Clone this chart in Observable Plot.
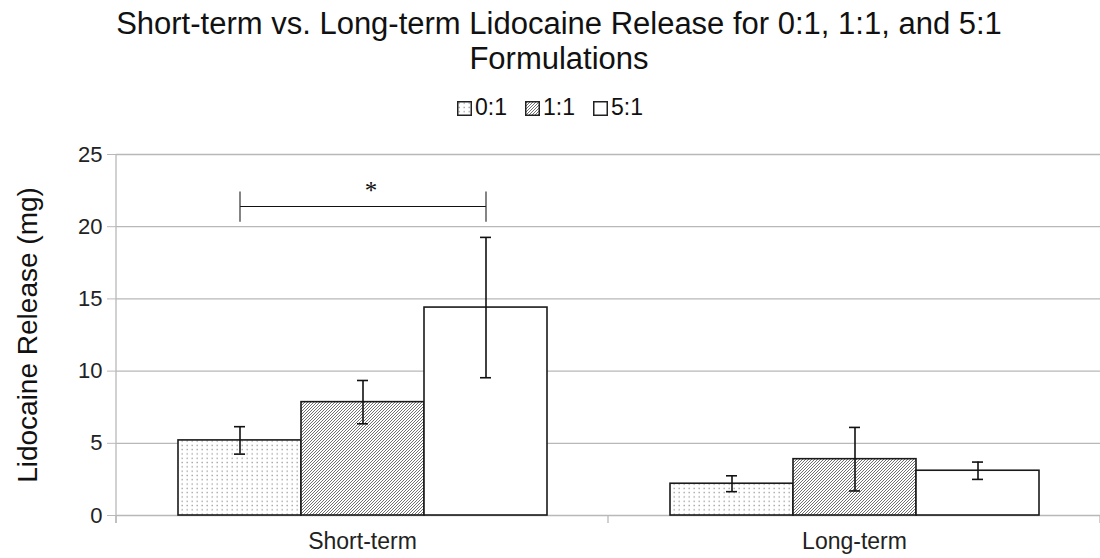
<!DOCTYPE html>
<html>
<head>
<meta charset="utf-8">
<script src="https://cdn.jsdelivr.net/npm/d3@7"></script>
<script src="https://cdn.jsdelivr.net/npm/@observablehq/plot@0.6"></script>
<style>
  body { margin: 0; background: #fff; font-family: "Liberation Sans", Arial, sans-serif; color: #111; }
  #wrap { position: relative; width: 1100px; height: 558px; overflow: hidden; }
  #title { position: absolute; left: 18px; top: 6px; width: 1082px; text-align: center; font-size: 31px; line-height: 35px; }
  #legend { position: absolute; left: 0; top: 96px; width: 1100px; text-align: center; font-size: 23px; line-height: 23px; white-space: nowrap; }
  #legend .item { display: inline-block; margin: 0 9px; }
  #legend svg { vertical-align: -1px; margin-right: 3px; }
  #chart { position: absolute; left: 0; top: 125px; }
</style>
</head>
<body>
<svg width="0" height="0" style="position:absolute">
  <defs>
    <pattern id="fill-dots" patternUnits="userSpaceOnUse" width="5" height="4.3">
      <rect width="5" height="4.3" fill="#fff"/>
      <rect x="1.5" y="1.5" width="1.4" height="1.3" fill="#a0a0a0"/>
    </pattern>
    <pattern id="fill-hatch" patternUnits="userSpaceOnUse" width="3" height="3">
      <rect width="3" height="3" fill="#fff"/>
      <path d="M-0.75,0.75 L0.75,-0.75 M0,3 L3,0 M2.25,3.75 L3.75,2.25" stroke="#6a6a6a" stroke-width="0.95"/>
    </pattern>
  </defs>
</svg>
<div id="wrap">
  <div id="title">Short-term vs. Long-term Lidocaine Release for 0:1, 1:1, and 5:1<br>Formulations</div>
  <div id="legend"></div>
  <div id="chart"></div>
</div>
<script>
// Formulation ratios and release phases
const categories = ["Short-term", "Long-term"];
const series = ["0:1", "1:1", "5:1"];
const seriesFills = ["url(#fill-dots)", "url(#fill-hatch)", "#fff"];

// Mean lidocaine release (mg) and error (±) per formulation
const shortTermMeans = [5.2, 7.85, 14.4];
const shortTermErrors = [0.95, 1.5, 4.86];
const longTermMeans = [2.2, 3.9, 3.1];
const longTermErrors = [0.55, 2.2, 0.6];

const yTicks = [0, 5, 10, 15, 20, 25];
const yLabel = "Lidocaine Release (mg)";

// Significance bracket between formulations
const sigCategory = ["Short-term"];
const sigFrom = ["0:1"];
const sigTo = ["5:1"];
const sigLevel = [21.4];
const sigTickLow = [20.3];
const sigTickHigh = [22.4];
const sigLabel = ["*"];

const means = [shortTermMeans, longTermMeans];
const errors = [shortTermErrors, longTermErrors];
const rows = categories.flatMap((category, ci) =>
  series.map((s, si) => ({
    category,
    series: s,
    value: means[ci][si],
    lo: means[ci][si] - errors[ci][si],
    hi: means[ci][si] + errors[ci][si]
  }))
);
const brackets = sigCategory.map((category, i) => ({
  category,
  from: sigFrom[i],
  to: sigTo[i],
  mid: series[(series.indexOf(sigFrom[i]) + series.indexOf(sigTo[i])) / 2],
  y: sigLevel[i],
  lo: sigTickLow[i],
  hi: sigTickHigh[i],
  label: sigLabel[i]
}));

// Legend
const legend = d3.select("#legend");
series.forEach((s, i) => {
  const item = legend.append("span").attr("class", "item");
  const sw = item.append("svg").attr("width", 15).attr("height", 15);
  sw.append("rect").attr("x", 0.75).attr("y", 0.75).attr("width", 13.5).attr("height", 13.5)
    .attr("fill", seriesFills[i]).attr("stroke", "#222").attr("stroke-width", 1.5);
  item.append("span").text(s);
});

const grid = "#b8b8b8";
const plot = Plot.plot({
  width: 1100,
  height: 433,
  marginTop: 29,
  marginBottom: 43,
  marginLeft: 116,
  marginRight: 0,
  style: { fontFamily: "Liberation Sans, Arial, sans-serif", color: "#222", background: "#fff" },
  fx: { domain: categories, padding: 0, label: null },
  x: { domain: series, paddingInner: 0, paddingOuter: 0.5, axis: null },
  y: { domain: [0, 25], label: null },
  color: { domain: series, range: seriesFills },
  marks: [
    Plot.ruleY(yTicks, { stroke: grid, strokeWidth: 1.3 }),
    Plot.axisY({ ticks: yTicks, tickSize: 9, tickPadding: 5, stroke: grid, fontSize: 22, label: null }),
    Plot.axisFx({ anchor: "bottom", tickSize: 0, tickPadding: 17, fontSize: 23, label: null }),
    Plot.barY(rows, { fx: "category", x: "series", y: "value", fill: "series", stroke: "#1a1a1a", strokeWidth: 1.6 }),
    Plot.ruleX(rows, { fx: "category", x: "series", y1: "lo", y2: "hi", stroke: "#111", strokeWidth: 1.6 }),
    Plot.tickY(rows, { fx: "category", x: "series", y: "lo", insetLeft: 56, insetRight: 56, stroke: "#111", strokeWidth: 1.6 }),
    Plot.tickY(rows, { fx: "category", x: "series", y: "hi", insetLeft: 56, insetRight: 56, stroke: "#111", strokeWidth: 1.6 }),
    Plot.link(brackets, { fx: "category", x1: "from", x2: "to", y1: "y", y2: "y", stroke: "#111", strokeWidth: 1.2 }),
    Plot.ruleX(brackets, { fx: "category", x: "from", y1: "lo", y2: "hi", stroke: "#333", strokeWidth: 1.2 }),
    Plot.ruleX(brackets, { fx: "category", x: "to", y1: "lo", y2: "hi", stroke: "#333", strokeWidth: 1.2 }),
    Plot.text(brackets, { fx: "category", x: "mid", y: "y", text: "label", dy: -15, dx: 8, fontSize: 25, fontFamily: "Liberation Serif, serif", fill: "#111" }),
    Plot.text([{ category: categories[0], label: yLabel }], { fx: "category", frameAnchor: "left", textAnchor: "middle", text: "label", rotate: -90, dx: -88, fontSize: 28, fill: "#111" })
  ]
});
document.getElementById("chart").appendChild(plot);

// Axis line and category separator ticks along the baseline
const fx = plot.scale("fx");
const y = plot.scale("y");
const svg = d3.select(plot);
const y0 = y.apply(0);
const left = fx.apply(categories[0]);
const edges = categories.map(c => fx.apply(c)).concat([fx.apply(categories[categories.length - 1]) + fx.bandwidth]);
const g = svg.append("g").attr("stroke", grid).attr("stroke-width", 1.3);
g.append("line").attr("x1", left).attr("x2", left).attr("y1", y.apply(25)).attr("y2", y0 + 8);
edges.forEach(e => {
  g.append("line").attr("x1", e).attr("x2", e).attr("y1", y0).attr("y2", y0 + 8);
});
</script>
</body>
</html>
